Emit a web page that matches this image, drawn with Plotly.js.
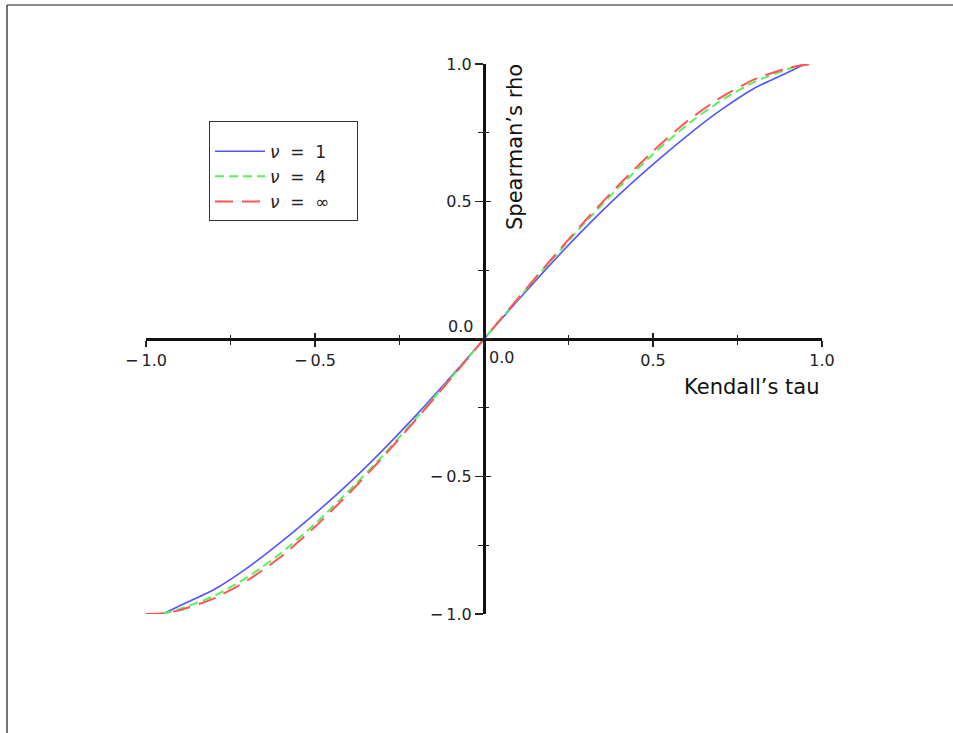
<!DOCTYPE html>
<html>
<head>
<meta charset="utf-8">
<script src="https://cdn.plot.ly/plotly-3.0.1.min.js"></script>
<style>html,body{margin:0;padding:0;background:#fff;}</style>
</head>
<body>
<div id="chart" style="width:953px;height:733px;"></div>
<script>
// Kendall's tau values per series
var tauNu1   = [-0.95,-0.9,-0.8,-0.7,-0.6,-0.5,-0.4,-0.3,-0.2,-0.1,0,0.1,0.2,0.3,0.4,0.5,0.6,0.7,0.8,0.9,0.95];
var rhoNu1   = [-1.0,-0.970,-0.912,-0.832,-0.738,-0.635,-0.525,-0.405,-0.276,-0.140,0,0.140,0.276,0.405,0.525,0.635,0.738,0.832,0.912,0.970,1.0];
var tauNu4   = [-0.95,-0.9,-0.8,-0.7,-0.6,-0.5,-0.4,-0.3,-0.2,-0.1,0,0.1,0.2,0.3,0.4,0.5,0.6,0.7,0.8,0.9,0.95];
var rhoNu4   = [-1.0,-0.982,-0.935,-0.866,-0.778,-0.672,-0.553,-0.425,-0.287,-0.145,0,0.145,0.287,0.425,0.553,0.672,0.778,0.866,0.935,0.982,1.0];
var tauNuInf = [-1.0,-0.95,-0.9,-0.8,-0.7,-0.6,-0.5,-0.4,-0.3,-0.2,-0.1,0,0.1,0.2,0.3,0.4,0.5,0.6,0.7,0.8,0.9,0.965];
var rhoNuInf = [-1.0,-0.997,-0.986,-0.944,-0.878,-0.791,-0.683,-0.562,-0.431,-0.291,-0.147,0,0.147,0.291,0.431,0.562,0.683,0.791,0.878,0.944,0.986,1.0];

var NB = '\u00a0';
var seriesNames = [
  '<i>ν</i>' + NB + NB + '=' + NB + NB + '1' + NB + NB + NB + NB,
  '<i>ν</i>' + NB + NB + '=' + NB + NB + '4' + NB + NB + NB + NB,
  '<i>ν</i>' + NB + NB + '=' + NB + NB + '∞' + NB + NB + NB + NB
];
var majorTicks = [-1, -0.5, 0, 0.5, 1];
var majorTickText = ['\u2212\u20091.0', '\u2212\u20090.5', '', '0.5', '1.0'];
var minorTicks = [-0.75, -0.25, 0.25, 0.75];
var xTitle = 'Kendall\u2019s tau';
var yTitle = 'Spearman\u2019s rho';

var font = 'DejaVu Sans, sans-serif';

var traces = [
  {x: tauNu1, y: rhoNu1, name: seriesNames[0], mode: 'lines',
   line: {color: 'rgb(85,85,255)', width: 1.6, dash: 'solid', shape: 'spline', smoothing: 0.6}},
  {x: tauNu4, y: rhoNu4, name: seriesNames[1], mode: 'lines',
   line: {color: 'rgb(90,240,90)', width: 2, dash: '9px,5px', shape: 'spline', smoothing: 0.6}},
  {x: tauNuInf, y: rhoNuInf, name: seriesNames[2], mode: 'lines',
   line: {color: 'rgb(255,85,85)', width: 2, dash: '18px,9px', shape: 'spline', smoothing: 0.6}},
  {x: [], y: [], xaxis: 'x2', yaxis: 'y2', showlegend: false, hoverinfo: 'skip'}
];

var tickFont = {family: font, size: 16, color: '#222'};

function axisCommon(extra) {
  var a = {
    range: [-1, 1], anchor: 'free', position: 0.5,
    showgrid: false, zeroline: false,
    tickmode: 'array', tickvals: majorTicks,
    tickfont: tickFont
  };
  for (var k in extra) a[k] = extra[k];
  return a;
}

var layout = {
  width: 953, height: 733,
  margin: {l: 146, r: 131, t: 64, b: 119},
  paper_bgcolor: '#fff', plot_bgcolor: 'rgba(0,0,0,0)',
  font: {family: font, size: 16, color: '#222'},
  showlegend: true,
  legend: {
    x: 0.0932, y: 0.8964, xanchor: 'left', yanchor: 'top',
    bgcolor: '#fff', bordercolor: '#333', borderwidth: 1,
    font: {family: font, size: 17, color: '#222'},
    title: {text: ' ', font: {size: 9}},
    itemwidth: 50, tracegroupgap: 0
  },
  xaxis: axisCommon({
    showline: true, linecolor: '#111', linewidth: 3,
    ticks: 'outside', ticklen: 6, tickwidth: 1.3, tickcolor: '#222',
    ticktext: majorTickText,
    minor: {tickvals: minorTicks, ticks: 'outside', ticklen: 4, tickwidth: 1.3, tickcolor: '#222'}
  }),
  yaxis: axisCommon({
    showline: true, linecolor: '#111', linewidth: 3,
    ticks: 'outside', ticklen: 8, tickwidth: 1.3, tickcolor: '#222',
    ticktext: majorTickText,
    minor: {tickvals: minorTicks, ticks: 'outside', ticklen: 5, tickwidth: 1.3, tickcolor: '#222'}
  }),
  xaxis2: axisCommon({
    overlaying: 'x', showline: false, showticklabels: false,
    ticks: 'inside', ticklen: 6, tickwidth: 1.3, tickcolor: '#222',
    minor: {tickvals: minorTicks, ticks: 'inside', ticklen: 4, tickwidth: 1.3, tickcolor: '#222'}
  }),
  yaxis2: axisCommon({
    overlaying: 'y', showline: false, showticklabels: false,
    ticks: 'inside', ticklen: 6, tickwidth: 1.3, tickcolor: '#222',
    minor: {tickvals: minorTicks, ticks: 'inside', ticklen: 4, tickwidth: 1.3, tickcolor: '#222'}
  }),
  annotations: [
    {x: 0, y: 0, xref: 'x', yref: 'y', text: '0.0', showarrow: false,
     xanchor: 'left', yanchor: 'top', xshift: 3, yshift: -7, font: tickFont},
    {x: 0, y: 0, xref: 'x', yref: 'y', text: '0.0', showarrow: false,
     xanchor: 'right', yanchor: 'bottom', xshift: -9, yshift: 1, font: tickFont},
    {x: 1, y: 0, xref: 'x', yref: 'y', text: xTitle, showarrow: false,
     xanchor: 'right', yanchor: 'top', yshift: -34,
     font: {family: font, size: 21, color: '#111'}},
    {x: 0, y: 1, xref: 'x', yref: 'y', text: yTitle, showarrow: false,
     textangle: -90, xanchor: 'left', yanchor: 'top', xshift: 17, yshift: 2,
     font: {family: font, size: 21, color: '#111'}}
  ],
  shapes: [
    {type: 'line', xref: 'paper', yref: 'paper', x0: -0.2056, x1: 1.25, y0: 1.1073, y1: 1.1073,
     line: {color: '#666', width: 1.5}},
    {type: 'line', xref: 'paper', yref: 'paper', x0: -0.2056, x1: -0.2056, y0: 1.1073, y1: -0.25,
     line: {color: '#444', width: 1.5}}
  ]
};

Plotly.newPlot('chart', traces, layout, {displayModeBar: false, staticPlot: true});
</script>
</body>
</html>
